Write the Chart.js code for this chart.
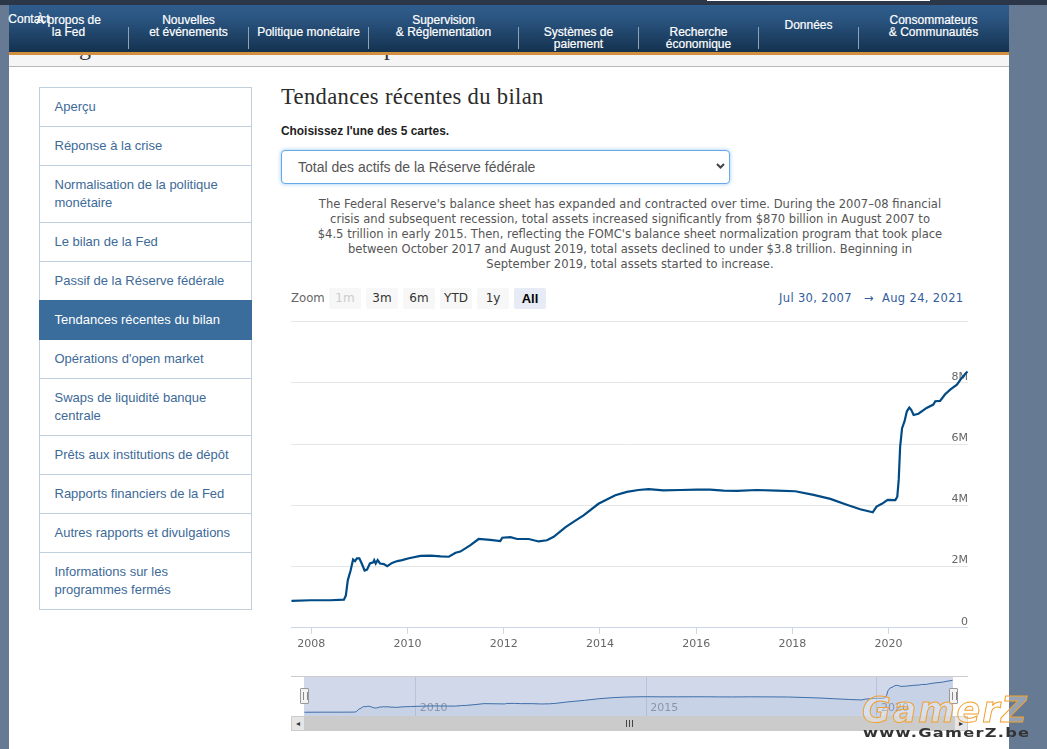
<!DOCTYPE html>
<html lang="fr"><head><meta charset="utf-8">
<script src="https://cdn.jsdelivr.net/npm/chart.js@4"></script>
<style>
*{box-sizing:border-box}
html,body{margin:0;padding:0;width:1047px;height:749px;overflow:hidden;background:#677a94;font-family:"Liberation Sans",Arial,sans-serif}
.abs,.abs *{white-space:nowrap}
.abs{position:absolute}
#panel{position:absolute;left:9px;top:5px;width:1000px;height:744px;background:#fff}
#topbar{position:absolute;left:0;top:0;width:1047px;height:5px;background:#2b3648}
#topwhite{position:absolute;left:707px;top:0;width:223px;height:1px;background:#fff}
#strip{position:absolute;left:9px;top:55px;width:1000px;height:12px;background:#f5f5f5;border-bottom:1px solid #b8b8b8;overflow:hidden}
#strip span{position:absolute;top:-21px;font:24px "Liberation Serif";color:#333}
#nav{position:absolute;left:9px;top:5px;width:1000px;height:47px;background:linear-gradient(#2f5d8c,#2a5480 30%,#14324f)}
#orange{position:absolute;left:9px;top:52px;width:1000px;height:3px;background:#d28f3e}
.ni{position:absolute;color:#fff;font-size:12px;line-height:12px;text-align:center;transform:translateX(-50%);-webkit-text-stroke:.2px #fff}
.sep{position:absolute;top:27px;width:1px;height:22px;background:#8fa3b8}
#side{position:absolute;left:39px;top:87px;width:213px;height:523px;border:1px solid #bfcfdd;background:#fff}
.si{position:absolute;left:0;width:211px;border-bottom:1px solid #bfcfdd;color:#3d6a98;font-size:13px;line-height:18px;padding:11px 15px 0 14.5px}
.si.last{border-bottom:0}
.si.on{background:#3a6d9c;color:#fff;left:-1px;width:213px;border-bottom:0;padding-left:15.5px}
#title{left:281px;top:84px;font:22.6px/26px "Liberation Serif";color:#2b2b2b;letter-spacing:.33px}
#pick{left:281px;top:124px;font-size:11.9px;line-height:14px;font-weight:bold;color:#222}
#sel{position:absolute;left:281px;top:150px;width:449px;height:34px;border:1px solid #66a9e6;border-radius:4px;background:#fff;box-shadow:0 0 4px #9cc9f2;color:#555;font-size:14px;line-height:32px;padding-left:16px}
#chev{position:absolute;left:716px;top:163px;width:9px;height:6px}
#para{position:absolute;left:310px;top:197px;width:640px;text-align:center;font:11.56px/15px "DejaVu Sans";color:#555}
#para div{white-space:nowrap}
.zt{position:absolute;top:288px;height:21px;font:12px/21px "DejaVu Sans";text-align:center;color:#333;background:#f7f7f7;border-radius:2px;width:32px}
#zl{left:291px;top:291px;font:11.7px/15px "DejaVu Sans";color:#666}
#range{left:779px;top:291px;font:11.5px/14px "DejaVu Sans";color:#335c9c;letter-spacing:.35px}
#topline{position:absolute;left:291px;top:321px;width:677px;height:1px;background:#e6e6e6}
#main{position:absolute;left:291px;top:315px;width:677px;height:340px}
#navtop{position:absolute;left:291px;top:676px;width:677px;height:1px;background:#ccc}
#navbox{position:absolute;left:304px;top:677px;width:649px;height:39px;background:#d0d8ea}
#over{position:absolute;left:304px;top:677px;width:649px;height:39px}
.h{position:absolute;top:688px;width:9px;height:16px;background:#f2f2f2;border:1px solid #999;border-radius:1px}
.h:after{content:"";position:absolute;left:2px;top:3px;width:3px;height:8px;border-left:1px solid #888;border-right:1px solid #888}
#sb{position:absolute;left:291px;top:716px;width:677px;height:15px;background:#cbcbcb}
.sbb{position:absolute;top:716px;width:14px;height:15px;background:#e6e6e6;border:1px solid #ccc;font:8px/13px "DejaVu Sans";text-align:center;color:#333}
#grip{position:absolute;left:626px;top:720px;width:7px;height:7px;border-left:1px solid #444;border-right:1px solid #444}
#grip:after{content:"";position:absolute;left:2px;top:0;width:1px;height:7px;background:#444}
#wm{left:862px;top:690px;font:italic bold 35px/40px "DejaVu Sans";color:rgba(255,255,255,.3);-webkit-text-stroke:1px #f0a030;letter-spacing:1.9px}
#wm2{left:863px;top:725px;font:bold 13px/16px "DejaVu Sans";color:#333;letter-spacing:1px;transform:scaleX(1.25);transform-origin:left center}
</style></head><body>
<div id="topbar"></div><div id="topwhite"></div>
<div id="panel"></div>
<div id="strip"><span style="left:70px">g</span><span style="left:375px">p</span></div>
<div id="nav"></div><div id="orange"></div>
<div id="navitems"></div>
<div id="side"></div>
<div class="abs" id="title">Tendances récentes du bilan</div>
<div class="abs" id="pick">Choisissez l'une des 5 cartes.</div>
<div id="sel">Total des actifs de la Réserve fédérale</div>
<svg id="chev" viewBox="0 0 9 6"><path d="M1 1l3.5 3.5L8 1" fill="none" stroke="#444" stroke-width="2"/></svg>
<div id="para"></div>
<div class="abs" id="zl">Zoom</div>
<div id="zoomBtns"></div>
<div class="abs" id="range">Jul 30, 2007 &nbsp; → &nbsp;Aug 24, 2021</div>
<div id="topline"></div>
<canvas id="main" width="677" height="340"></canvas>
<div id="navtop"></div><div id="navbox"></div>
<canvas id="over" width="649" height="39"></canvas>
<div class="h" style="left:300px"></div><div class="h" style="left:949px"></div>
<div id="sb"></div><div class="sbb" style="left:291px">◂</div><div class="sbb" style="left:954px">▸</div><div id="grip"></div>
<div class="abs" id="wm">GamerZ</div>
<div class="abs" id="wm2">www.GamerZ.be</div>
<script>
// decimal year of each reading
const years = [2007.59,2007.99,2008.40,2008.68,2008.72,2008.76,2008.82,2008.87,2008.91,2008.95,2009.00,2009.05,2009.11,2009.16,2009.22,2009.29,2009.31,2009.34,2009.38,2009.43,2009.51,2009.58,2009.68,2009.79,2009.89,2010.03,2010.27,2010.48,2010.69,2010.86,2011.00,2011.10,2011.31,2011.48,2011.72,2011.93,2011.97,2012.14,2012.28,2012.52,2012.73,2012.90,2013.04,2013.28,2013.45,2013.66,2013.97,2014.32,2014.56,2014.80,2015.01,2015.32,2015.67,2016.02,2016.29,2016.57,2016.85,2017.26,2017.68,2018.06,2018.44,2018.79,2019.13,2019.41,2019.67,2019.75,2019.86,2019.98,2020.14,2020.18,2020.21,2020.24,2020.28,2020.33,2020.38,2020.43,2020.47,2020.52,2020.62,2020.79,2020.93,2020.97,2021.07,2021.17,2021.28,2021.42,2021.52,2021.64];
// total assets, in the chart's "M" units
const assets = [0.88,0.90,0.90,0.92,1.06,1.55,1.88,2.23,2.18,2.27,2.27,2.10,1.87,1.90,2.10,2.14,2.21,2.10,2.21,2.10,2.08,2.01,2.12,2.18,2.21,2.27,2.35,2.36,2.33,2.32,2.45,2.49,2.70,2.90,2.87,2.83,2.94,2.96,2.90,2.90,2.82,2.86,2.97,3.28,3.46,3.67,4.05,4.33,4.44,4.50,4.53,4.49,4.50,4.51,4.51,4.48,4.47,4.50,4.48,4.46,4.34,4.21,4.02,3.87,3.77,3.96,4.05,4.18,4.17,4.28,4.83,5.92,6.52,6.74,7.07,7.19,7.12,6.95,6.99,7.18,7.29,7.40,7.41,7.62,7.78,7.94,8.16,8.37];
const xTicks = [2008,2010,2012,2014,2016,2018,2020];
const yTicks = [0,2,4,6,8,10];
const navTicks = [2010,2015,2020];
const navItems = [["À propos de<br>la Fed",68.5,14],["Nouvelles<br>et événements",188.5,14],["Politique monétaire",308.5,26],["Supervision<br>& Réglementation",443.5,14],["Systèmes de<br>paiement",578.5,26],["Recherche<br>économique",698.5,26],["Données",808.5,19],["Consommateurs<br>& Communautés",933.5,14],["Contact",29,13]];
const navSeps = [128,248,368,518,638,758,858];
const sideItems = [["Aperçu",87,39],["Réponse à la crise",126,39],["Normalisation de la politique<br>monétaire",165,57],["Le bilan de la Fed",222,39],["Passif de la Réserve fédérale",261,39],["Tendances récentes du bilan",300,39,1],["Opérations d'open market",339,39],["Swaps de liquidité banque<br>centrale",378,57],["Prêts aux institutions de dépôt",435,39],["Rapports financiers de la Fed",474,39],["Autres rapports et divulgations",513,39],["Informations sur les<br>programmes fermés",552,57]];
const paraLines = ["The Federal Reserve's balance sheet has expanded and contracted over time. During the 2007–08 financial","crisis and subsequent recession, total assets increased significantly from $870 billion in August 2007 to","$4.5 trillion in early 2015. Then, reflecting the FOMC's balance sheet normalization program that took place","between October 2017 and August 2019, total assets declined to under $3.8 trillion. Beginning in","September 2019, total assets started to increase."];
const zoomBtns = [["1m",329],["3m",366],["6m",403],["YTD",440],["1y",477],["All",514]];

document.getElementById('navitems').innerHTML = navItems.map(n=>`<div class="abs ni" style="left:${n[1]}px;top:${n[2]}px">${n[0]}</div>`).join('')+navSeps.map(x=>`<div class="sep" style="left:${x}px"></div>`).join('');
document.getElementById('side').innerHTML = sideItems.map((s,i)=>`<div class="si${s[3]?' on':''}${i==sideItems.length-1?' last':''}" style="top:${s[1]-88}px;height:${s[2]+1}px">${s[0]}</div>`).join('');
document.getElementById('para').innerHTML = paraLines.map(l=>`<div>${l}</div>`).join('');
document.getElementById('zoomBtns').innerHTML = zoomBtns.map(b=>{
  const st = b[0]=='1m'?'color:#ccc':b[0]=='All'?'background:#e6ebf5;color:#000;font-weight:bold;font-family:Liberation Sans;font-size:13px':'';
  return `<div class="zt" style="left:${b[1]}px;${st}">${b[0]}</div>`}).join('');

const pts = years.map((y,i)=>({x:y,y:assets[i]}));
const labelFont = {family:'"DejaVu Sans"',size:11};
new Chart(document.getElementById('main'),{
  type:'line',
  data:{datasets:[{data:pts,borderColor:'#004b85',borderWidth:2.2,pointRadius:0,tension:0,fill:false}]},
  options:{responsive:false,maintainAspectRatio:false,animation:false,devicePixelRatio:1,
    layout:{padding:0},
    plugins:{legend:{display:false},tooltip:{enabled:false}},
    scales:{
      x:{type:'linear',min:2007.58,max:2021.65,
        afterBuildTicks:s=>{s.ticks=xTicks.map(value=>({value}))},
        grid:{drawOnChartArea:false,drawTicks:true,tickLength:6,tickColor:'#ccd6eb'},
        border:{color:'#ccd6eb'},
        ticks:{autoSkip:false,maxRotation:0,font:labelFont,color:'#666',padding:4,callback:v=>String(v)}},
      y:{position:'right',min:0,max:10,
        afterBuildTicks:s=>{s.ticks=yTicks.map(value=>({value}))},
        afterFit:s=>{s.width=0},
        grid:{color:'#e6e6e6',drawTicks:false},
        border:{display:false},
        ticks:{mirror:true,labelOffset:-6,padding:0,font:labelFont,color:'#666',callback:v=>v===10?'':(v===0?'0':v+'M')}}
    }}
});
new Chart(document.getElementById('over'),{
  type:'line',
  data:{datasets:[{data:pts,borderColor:'#3d6ea8',borderWidth:1,pointRadius:0,tension:0,fill:'origin',backgroundColor:'rgba(51,92,173,0.05)'}]},
  options:{responsive:false,maintainAspectRatio:false,animation:false,devicePixelRatio:1,
    layout:{padding:0},
    plugins:{legend:{display:false},tooltip:{enabled:false}},
    scales:{
      x:{type:'linear',min:2007.58,max:2021.65,
        afterBuildTicks:s=>{s.ticks=navTicks.map(value=>({value}))},
        afterFit:s=>{s.height=0},
        grid:{color:'#b8c3da',drawTicks:false},
        border:{display:false},
        ticks:{mirror:true,autoSkip:false,maxRotation:0,font:labelFont,color:'#8f97a8',padding:1,labelOffset:18,callback:v=>String(v)}},
      y:{display:false,min:0,max:9.15}
    }}
});
</script>
</body></html>
